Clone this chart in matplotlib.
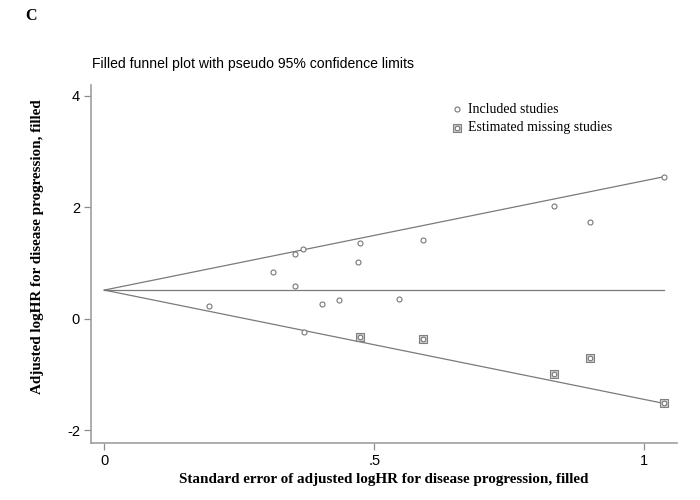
import numpy as np
import matplotlib
matplotlib.use('Agg')
from matplotlib import pyplot as plt
from matplotlib.legend_handler import HandlerTuple

# pooled estimate (apex of funnel) and largest standard error
theta = 0.515
se_max = 1.036

# included studies: standard error, adjusted logHR
inc_se = [0.194, 0.312, 0.354, 0.368, 0.354, 0.369, 0.403, 0.435, 0.474,
          0.470, 0.546, 0.591, 0.832, 0.900, 1.036]
inc_hr = [0.228, 0.83, 1.154, 1.254, 0.586, -0.233, 0.263, 0.335, 1.362,
          1.01, 0.353, 1.41, 2.02, 1.73, 2.54]

# estimated missing studies (trim and fill)
miss_se = [0.474, 0.591, 0.832, 0.900, 1.036]
miss_hr = [-0.32, -0.364, -0.986, -0.70, -1.516]

xticks = [0, 0.5, 1]
xticklabels = ['0', '.5', '1']
yticks = [-2, 0, 2, 4]
yticklabels = ['-2', '0', '2', '4']

serif = ['Liberation Serif', 'DejaVu Serif']
sans = ['Liberation Sans', 'DejaVu Sans']
grey = '#8c8c8c'

fig = plt.figure(figsize=(7, 5), dpi=100)
ax = fig.add_axes([0.13, 0.1146, 0.8376, 0.7154])

# pseudo 95% confidence limits
se_line = np.array([0, se_max])
ax.plot(se_line, theta + 1.96 * se_line, color='#7a7a7a', lw=0.9)
ax.plot(se_line, theta - 1.96 * se_line, color='#7a7a7a', lw=0.9)
ax.plot(se_line, [theta, theta], color='#7a7a7a', lw=0.9)

h_inc = ax.scatter(inc_se, inc_hr, s=13, facecolors='white', edgecolors='#777777',
                   linewidths=0.8, zorder=3)
h_sq = ax.scatter(miss_se, miss_hr, s=34, marker='s', facecolors='#d0d0d0',
                  edgecolors='#808080', linewidths=0.8, zorder=3)
h_ci = ax.scatter(miss_se, miss_hr, s=11, facecolors='white', edgecolors='#777777',
                  linewidths=0.8, zorder=4)

ax.set_xlim(-0.0246, 1.061)
ax.set_ylim(-2.22, 4.19)
ax.set_xticks(xticks)
ax.set_xticklabels(xticklabels, fontfamily=sans, fontsize=10.5)
ax.set_yticks(yticks)
ax.set_yticklabels(yticklabels, fontfamily=sans, fontsize=10.5)
ax.tick_params(colors=grey, labelcolor='black', length=5, width=0.9, pad=3)

for s in ['top', 'right']:
    ax.spines[s].set_visible(False)
for s in ['left', 'bottom']:
    ax.spines[s].set_color('#a0a0a0')
    ax.spines[s].set_linewidth(1.2)

ax.set_xlabel('Standard error of adjusted logHR for disease progression, filled',
              fontfamily=serif, fontweight='bold', fontsize=10.9, va='center')
ax.xaxis.set_label_coords(0.5, -0.104)
ax.set_ylabel('Adjusted logHR for disease progression, filled',
              fontfamily=serif, fontweight='bold', fontsize=10.9, va='center')
ax.yaxis.set_label_coords(-0.091, 0.548)

ax.legend([h_inc, (h_sq, h_ci)], ['Included studies', 'Estimated missing studies'],
          handler_map={tuple: HandlerTuple(ndivide=1, pad=0)},
          loc='upper left', bbox_to_anchor=(0.6, 0.97), frameon=False,
          handletextpad=0.35, borderpad=0, labelspacing=0.4,
          handlelength=1.0, prop={'family': serif, 'size': 10})

fig.text(92 / 700, 1 - 64 / 500, 'Filled funnel plot with pseudo 95% confidence limits',
         fontfamily=sans, fontsize=10.1, ha='left', va='center')
fig.text(30.5 / 700, 1 - 15.5 / 500, 'C', fontfamily=serif, fontweight='bold',
         fontsize=11.5, ha='center', va='center')

fig.savefig('out.png', dpi=100)
